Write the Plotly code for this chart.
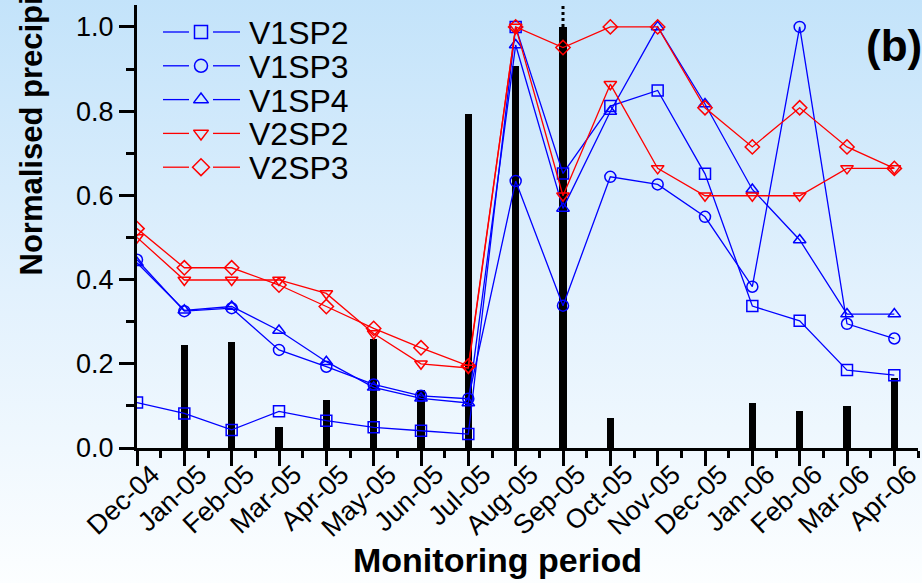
import base64
import plotly.graph_objects as go

# ---------------- data ----------------
months = ["Dec-04", "Jan-05", "Feb-05", "Mar-05", "Apr-05", "May-05", "Jun-05", "Jul-05",
          "Aug-05", "Sep-05", "Oct-05", "Nov-05", "Dec-05", "Jan-06", "Feb-06", "Mar-06", "Apr-06"]

rain = [0.0, 0.245, 0.251, 0.050, 0.114, 0.259, 0.138, 0.793,
        0.906, 1.000, 0.072, 0.0, 0.0, 0.106, 0.087, 0.100, 0.166]

v1sp2 = [0.108, 0.082, 0.043, 0.087, 0.065, 0.049, 0.041, 0.033,
         1.000, 0.652, 0.812, 0.849, 0.651, 0.337, 0.302, 0.185, 0.173]
v1sp3 = [0.447, 0.325, 0.332, 0.233, 0.193, 0.151, 0.124, 0.117,
         0.634, 0.338, 0.644, 0.626, 0.549, 0.383, 1.000, 0.295, 0.260]
v1sp4 = [0.440, 0.327, 0.336, 0.279, 0.205, 0.144, 0.118, 0.107,
         0.957, 0.569, 0.799, 1.000, 0.817, 0.614, 0.494, 0.318, 0.318]
v2sp2 = [0.500, 0.399, 0.399, 0.399, 0.367, 0.272, 0.200, 0.190,
         1.000, 0.599, 0.864, 0.664, 0.599, 0.599, 0.599, 0.664, 0.664]
v2sp3 = [0.521, 0.428, 0.428, 0.387, 0.336, 0.284, 0.238, 0.195,
         1.000, 0.951, 1.000, 1.000, 0.808, 0.715, 0.808, 0.715, 0.664]

series_names = ["V1SP2", "V1SP3", "V1SP4", "V2SP2", "V2SP3"]
series_values = [v1sp2, v1sp3, v1sp4, v2sp2, v2sp3]
series_colors = ["#0000ff", "#0000ff", "#0000ff", "#ff0000", "#ff0000"]
series_symbols = ["square-open", "circle-open", "triangle-up-open", "triangle-down-open", "diamond-open"]

y_ticks = [0.0, 0.2, 0.4, 0.6, 0.8, 1.0]

# ---------------- figure ----------------
W, H = 922, 583
ML, MR, MT, MB = 137, 4, 5, 135
PW, PH = W - ML - MR, H - MT - MB

def px_x(p):
    return (p - ML) / PW

def px_y(p):
    return (H - MB - p) / PH

idx = list(range(len(months)))
FONT = "Liberation Sans, Arial, sans-serif"

fig = go.Figure()

fig.add_trace(go.Bar(x=idx, y=rain, width=0.15, marker=dict(color="black", line=dict(width=0)),
                     showlegend=False, hoverinfo="skip"))

for name, vals, col, sym in zip(series_names, series_values, series_colors, series_symbols):
    fig.add_trace(go.Scatter(
        x=idx, y=vals, name=name, mode="lines+markers", showlegend=False,
        line=dict(color=col, width=1.3),
        marker=dict(symbol=sym, size=11, color=col, line=dict(width=1.5, color=col)),
    ))

# ---- hand-drawn legend (Origin style: line - marker - line, text) on a pixel overlay axis ----
LEG_Y0, LEG_DY = 32, 33.8
for i, (name, col, sym) in enumerate(zip(series_names, series_colors, series_symbols)):
    ry = LEG_Y0 + LEG_DY * i
    fig.add_trace(go.Scatter(
        x=[201], y=[ry], xaxis="x2", yaxis="y2", mode="markers", showlegend=False,
        cliponaxis=False, hoverinfo="skip",
        marker=dict(symbol=sym, size=13, color=col, line=dict(width=1.5, color=col)),
    ))
    for xa, xb in [(163, 189), (213, 240)]:
        fig.add_shape(type="line", xref="x2", yref="y2", x0=xa, x1=xb, y0=ry, y1=ry,
                      line=dict(color=col, width=1.3))
    fig.add_annotation(text=name, xref="x2", yref="y2", x=247, y=ry + 1, showarrow=False,
                       xanchor="left", yanchor="middle",
                       font=dict(family=FONT, size=32, color="black"))

# dotted continuation of the off-scale bar
sep = months.index("Sep-05")
fig.add_shape(type="line", xref="x", yref="y", x0=sep, x1=sep, y0=rain[sep], y1=1.052,
              line=dict(color="black", width=3, dash="dot"))

# background gradient
svg = ('<svg xmlns="http://www.w3.org/2000/svg" width="10" height="100" preserveAspectRatio="none">'
       '<defs><linearGradient id="g" x1="0" y1="0" x2="0" y2="1">'
       '<stop offset="0" stop-color="#c3e3fa"/><stop offset="0.5" stop-color="#e2f1fd"/>'
       '<stop offset="1" stop-color="#fcfeff"/></linearGradient></defs>'
       '<rect width="10" height="100" fill="url(#g)"/></svg>')
src = "data:image/svg+xml;base64," + base64.b64encode(svg.encode()).decode()
fig.add_layout_image(dict(source=src, xref="paper", yref="paper",
                          x=px_x(-2), y=px_y(-2), sizex=(W + 4) / PW, sizey=(H + 4) / PH,
                          xanchor="left", yanchor="top", sizing="stretch", layer="below"))

axis_common = dict(showline=True, linewidth=3, linecolor="black", mirror=False,
                   ticks="outside", ticklen=15, tickwidth=3, tickcolor="black",
                   showgrid=False, zeroline=False, automargin=False)

fig.update_xaxes(range=[0, 16.5], tickmode="array", tickvals=idx, ticktext=months, tickangle=-43,
                 tickfont=dict(family=FONT, size=27, color="black"),
                 ticklabelshift=15, ticklabelstandoff=-18, ticklabeloverflow="allow",
                 minor=dict(tickmode="array", tickvals=[i + 0.5 for i in idx], ticklen=7,
                            tickwidth=3, tickcolor="black", ticks="outside"),
                 **axis_common)
fig.update_yaxes(range=[0, 1.052], tickmode="array", tickvals=y_ticks,
                 ticktext=[f"{v:.1f}" for v in y_ticks],
                 tickfont=dict(family=FONT, size=27, color="black"),
                 minor=dict(dtick=0.1, tick0=0, ticklen=8, tickwidth=3, tickcolor="black", ticks="outside"),
                 **axis_common)

fig.update_layout(
    xaxis2=dict(overlaying="x", range=[ML, W - MR], visible=False, fixedrange=True, automargin=False),
    yaxis2=dict(overlaying="y", range=[H - MB, MT], visible=False, fixedrange=True, automargin=False),
)

fig.add_annotation(text="<b>Monitoring period</b>", xref="paper", yref="paper",
                   x=px_x(497), y=px_y(560), showarrow=False, xanchor="center", yanchor="middle",
                   font=dict(family=FONT, size=34, color="black"))
fig.add_annotation(text="<b>Normalised precipitation</b>", xref="paper", yref="paper",
                   x=px_x(31), y=px_y(278), showarrow=False, xanchor="center", yanchor="bottom",
                   textangle=-90, font=dict(family=FONT, size=31, color="black"))
fig.add_annotation(text="<b>(b)</b>", xref="paper", yref="paper",
                   x=px_x(864), y=px_y(46), showarrow=False, xanchor="left", yanchor="middle",
                   font=dict(family=FONT, size=44, color="black"))

fig.update_layout(
    width=W, height=H,
    margin=dict(l=ML, r=MR, t=MT, b=MB, pad=0, autoexpand=False),
    paper_bgcolor="white", plot_bgcolor="rgba(0,0,0,0)",
    bargap=0,
    showlegend=False,
    font=dict(family=FONT, color="black"),
)

fig.write_html("out.html")
